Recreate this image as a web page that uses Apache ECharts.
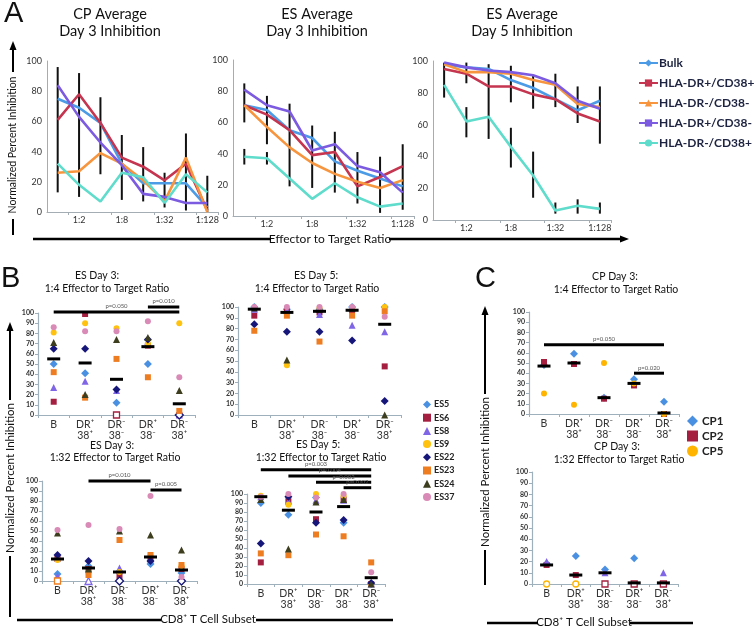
<!DOCTYPE html>
<html><head><meta charset="utf-8">
<script src="https://cdn.jsdelivr.net/npm/echarts@6/dist/echarts.min.js"></script>
<style>html,body{margin:0;padding:0;background:#fff}#c{width:754px;height:626px}</style>
</head><body><div id="c"></div>
<script>
// ---------- Panel A data ----------
const ratioCategories = ['1:1','1:2','1:4','1:8','1:16','1:32','1:64','1:128'];
const subsetNames = ['Bulk','HLA-DR+/CD38+','HLA-DR-/CD38-','HLA-DR+/CD38-','HLA-DR-/CD38+'];
const cpDay3Avg = [
  [75,69,59,32,19,19,19,3],
  [61,78,59,36,30,21,32,1],
  [26,27,39,32,21,7,36,0],
  [84,63,46,31,12,10,6,6],
  [32,18,7,26,23,6,25,13]
];
const cpDay3Err = [[0,13,96],[1,10,92],[2,25,76],[3,8,51],[4,7,43],[5,3,26],[6,1,52],[7,0,24]];
const esDay3Avg = [
  [71,68,55,50,35,29,24,19],
  [71,65,55,39,41,19,25,32],
  [71,57,44,34,27,22,18,23],
  [81,71,67,42,46,32,28,15],
  [38,37,24,11,21,12,6,8]
];
const esDay3Err = [[0,60,85],[0,33,43],[1,46,77],[1,33,41],[2,19,72],[3,18,58],[4,15,54],[5,8,41],[6,2,38],[7,4,46]];
const esDay5Avg = [
  [98,96,95,88,83,76,69,75],
  [95,92,84,84,79,76,67,62],
  [98,93,93,92,88,85,73,71],
  [99,96,94,93,91,86,75,70],
  [85,62,65,46,28,6,9,7]
];
const esDay5Err = [[0,77,99],[1,86,99],[1,52,71],[2,51,98],[3,74,97],[3,33,58],[4,70,91],[4,14,43],[5,71,92],[5,4,11],[6,61,84],[6,4,13],[7,48,84],[7,4,11]];

// ---------- Panels B / C data ----------
const subsetCategories = ['B','DR\u207A\n38\u207A','DR\u207B\n38\u207B','DR\u207A\n38\u207B','DR\u207B\n38\u207A'];
const esNames = ['ES5','ES6','ES8','ES9','ES22','ES23','ES24','ES37'];
const esDay3Ratio4 = [
  [50,41,12,50,0],[13,99,0,68,0],[27,33,24,72,0],[81,90,85,70,90],
  [65,65,25,74,0],[42,17,55,37,4],[71,20,74,76,24],[86,82,82,92,37]
];
const esDay3Ratio4Mean = [55,51,35,67,11];
const esDay3Ratio4Hollow = [[1,2],[4,4]];
const esDay5Ratio4 = [
  [100,98,98,100,100],[92,96,95,97,45],[98,97,93,83,77],[99,46,99,99,100],
  [84,77,77,69,13],[78,92,68,92,96],[99,51,98,99,0],[100,100,100,100,91]
];
const esDay5Ratio4Mean = [98,95,96,97,84];
const esDay3Ratio32 = [
  [7,15,9,17,8],[22,12,5,22,12],[5,0,13,22,4],[21,8,9,26,15],
  [26,20,0,20,0],[0,6,41,26,16],[48,12,50,46,31],[51,56,52,85,4]
];
const esDay3Ratio32Mean = [22,13,9,24,11];
const esDay3Ratio32Hollow = [[5,0],[2,1],[4,2],[4,4]];
const esDay5Ratio32 = [
  [90,77,96,68,0],[24,92,72,94,0],[97,92,93,93,0],[98,88,100,98,0],
  [45,97,68,71,1],[34,32,55,53,24],[94,39,91,94,0],[97,100,96,100,13]
];
const esDay5Ratio32Mean = [97,82,80,86,7];
const cpNames = ['CP1','CP2','CP5','CP4'];
const cpDay3Ratio4 = [[48,59,16,34,12],[51,49,15,28,0],[20,9,50,30,0],[null,null,null,null,null]];
const cpDay3Ratio4Mean = [47,50,16,30,1];
const cpDay3Ratio32 = [[18,25,13,23,null],[17,8,0,0,0],[0,0,null,null,null],[20,null,10,null,10]];
const cpDay3Ratio32Mean = [17,8,10,1,1];
const cpDay3Ratio32Hollow = [[2,0],[2,1],[1,2],[1,3],[1,4]];

const esDay3Ratio4Sig = [[0,4,101],[3,4,106]];
const esDay3Ratio4SigText = ['p=0.050','p=0.010'];
const esDay3Ratio32Sig = [[1,3,100],[3,4,91]];
const esDay3Ratio32SigText = ['p=0.010','p=0.005'];
const esDay5Ratio32Sig = [[0,4,127],[1,4,120],[2,4,113],[3,4,107]];
const esDay5Ratio32SigText = ['p=0.003','p=0.004','p=0.002','p=0.002'];
const cpDay3Ratio4Sig = [[0,4,68],[3,4,40]];
const cpDay3Ratio4SigText = ['p=0.050','p=0.020'];

// ---------- styles ----------
const FF = 'Lato, "Open Sans", sans-serif';
const subsetColors = ['#4b9be6','#c5354f','#f7953f','#7c5be0','#5fdccb'];
const subsetSymbols = ['diamond','rect','triangle','rect','circle'];
const esColors = ['#4a90e2','#a51f40','#7f66e6','#ffc20e','#15157a','#ee7d22','#3d3e1e','#d98ab6'];
const esSymbols = ['diamond','rect','triangle','circle','diamond','rect','triangle','circle'];
const cpColors = ['#4a90e2','#a51f40','#ffb400','#7f66e6'];
const cpSymbols = ['diamond','rect','circle','triangle'];

const grids = [
  {left:47, top:61, width:171, height:151},
  {left:233, top:60, width:181, height:156},
  {left:433, top:61, width:178, height:159},
  {left:38, top:313, width:157, height:102},
  {left:238, top:307, width:163, height:108},
  {left:42, top:481, width:155, height:100},
  {left:247, top:494, width:138, height:90},
  {left:529, top:312, width:150, height:102},
  {left:532, top:472, width:146, height:112}
].map(g => Object.assign({containLabel:false, outerBoundsMode:'none'}, g));

const xAxes = [], yAxes = [];
for (let g = 0; g < 3; g++) {
  xAxes.push({gridIndex:g, type:'category', data:ratioCategories, boundaryGap:true,
    axisLine:{lineStyle:{color:'#a3adb3', width:1}},
    axisTick:{show:true, length:3, lineStyle:{color:'#a3adb3'}},
    axisLabel:{interval:(i)=>i%2===1, fontSize:9, color:'#333', margin:4, fontFamily:FF}});
  yAxes.push({gridIndex:g, type:'value', min:0, max:100, interval:20,
    axisLine:{show:true, lineStyle:{color:'#a3adb3', width:1}}, axisTick:{show:false},
    splitLine:{show:false}, axisLabel:{fontSize:9, color:'#333', margin:5, fontFamily:FF}});
}
for (let g = 3; g < 9; g++) {
  xAxes.push({gridIndex:g, type:'category', data:subsetCategories, boundaryGap:true,
    axisLine:{lineStyle:{color:'#9fb0bd', width:1.2}},
    axisTick:{show:true, length:3, lineStyle:{color:'#9fb0bd'}},
    axisLabel:{interval:0, fontSize:10.5, lineHeight:11, color:'#333', margin:4, fontFamily:FF}});
  yAxes.push({gridIndex:g, type:'value', min:0, max:100, interval:10,
    axisLine:{show:true, lineStyle:{color:'#9fb0bd', width:1.2}},
    axisTick:{show:true, length:3, lineStyle:{color:'#9fb0bd'}},
    splitLine:{show:false}, axisLabel:{fontSize:7, fontWeight:'bold', color:'#333', margin:4, fontFamily:FF}});
}

const series = [];
// Panel A lines + error bars
[[cpDay3Avg, cpDay3Err],[esDay3Avg, esDay3Err],[esDay5Avg, esDay5Err]].forEach(([avg, err], g) => {
  series.push({type:'custom', xAxisIndex:g, yAxisIndex:g, data:err, z:2, silent:true,
    encode:{x:0, y:[1,2]},
    renderItem:(p, api) => {
      const a = api.coord([api.value(0), api.value(1)]);
      const b = api.coord([api.value(0), api.value(2)]);
      return {type:'line', shape:{x1:a[0], y1:a[1], x2:b[0], y2:b[1]}, style:{stroke:'#111', lineWidth:2}};
    }});
  avg.forEach((vals, s) => {
    series.push({type:'line', name:subsetNames[s], xAxisIndex:g, yAxisIndex:g, data:vals,
      symbol:subsetSymbols[s], symbolSize:8, showSymbol:false, z:3,
      lineStyle:{width:2.6, color:subsetColors[s]}, itemStyle:{color:subsetColors[s]}});
  });
});

function meanSeries(g, means) {
  return {type:'custom', xAxisIndex:g, yAxisIndex:g, z:5, silent:true,
    data:means.map((m,i)=>[i,m]), encode:{x:0,y:1},
    renderItem:(p, api) => {
      const c = api.coord([api.value(0), api.value(1)]);
      return {type:'rect', shape:{x:c[0]-6.5, y:c[1]-1.5, width:13, height:3}, style:{fill:'#000'}};
    }};
}
function sigSeries(g, sig, texts) {
  return {type:'custom', xAxisIndex:g, yAxisIndex:g, z:6, silent:true, clip:false,
    data:sig, encode:{x:[0,1], y:2},
    renderItem:(p, api) => {
      const a = api.coord([api.value(0), api.value(2)]);
      const b = api.coord([api.value(1), api.value(2)]);
      return {type:'group', children:[
        {type:'line', shape:{x1:a[0], y1:a[1], x2:b[0], y2:b[1]}, style:{stroke:'#000', lineWidth:3}},
        {type:'text', x:(a[0]+b[0])/2, y:a[1]-2.5, style:{text:texts[p.dataIndex], fill:'#555', font:'6px '+FF, textAlign:'center', textVerticalAlign:'bottom'}}
      ]};
    }};
}
function scatterSet(g, names, colors, symbols, table, hollow) {
  hollow = hollow || [];
  table.forEach((vals, j) => {
    const data = [];
    vals.forEach((v, i) => {
      if (v === null) return;
      const isHollow = hollow.some(h => h[0]===j && h[1]===i);
      data.push(isHollow ? {value:[i,v], itemStyle:{color:'#fff', borderColor:colors[j], borderWidth:1.3}} : [i,v]);
    });
    const sz = symbols[j]==='diamond' ? 8 : symbols[j]==='triangle' ? 7 : 6;
    series.push({type:'scatter', name:names[j], xAxisIndex:g, yAxisIndex:g, data,
      symbol:symbols[j], symbolSize:sz, z:4, itemStyle:{color:colors[j], opacity:1}});
  });
}
scatterSet(3, esNames, esColors, esSymbols, esDay3Ratio4, esDay3Ratio4Hollow);
series.push(meanSeries(3, esDay3Ratio4Mean), sigSeries(3, esDay3Ratio4Sig, esDay3Ratio4SigText));
scatterSet(4, esNames, esColors, esSymbols, esDay5Ratio4, []);
series.push(meanSeries(4, esDay5Ratio4Mean));
scatterSet(5, esNames, esColors, esSymbols, esDay3Ratio32, esDay3Ratio32Hollow);
series.push(meanSeries(5, esDay3Ratio32Mean), sigSeries(5, esDay3Ratio32Sig, esDay3Ratio32SigText));
scatterSet(6, esNames, esColors, esSymbols, esDay5Ratio32, []);
series.push(meanSeries(6, esDay5Ratio32Mean), sigSeries(6, esDay5Ratio32Sig, esDay5Ratio32SigText));
scatterSet(7, cpNames, cpColors, cpSymbols, cpDay3Ratio4, []);
series.push(meanSeries(7, cpDay3Ratio4Mean), sigSeries(7, cpDay3Ratio4Sig, cpDay3Ratio4SigText));
scatterSet(8, cpNames, cpColors, cpSymbols, cpDay3Ratio32, cpDay3Ratio32Hollow);
series.push(meanSeries(8, cpDay3Ratio32Mean));

// ---------- text & decorations ----------
function txt(t, x, y, size, opts) {
  opts = opts || {};
  return {type:'text', x, y, rotation:opts.rot||0, silent:true, z:10,
    style:{text:t, fill:opts.color||'#111', font:(opts.weight||'normal')+' '+size+'px '+(opts.family||FF),
      textAlign:opts.align||'center', textVerticalAlign:'middle'}};
}
function ln(x1,y1,x2,y2,w) {
  return {type:'line', silent:true, z:10, shape:{x1,y1,x2,y2}, style:{stroke:'#000', lineWidth:w||2.5}};
}
function arrowUp(x, y) { return {type:'polygon', silent:true, z:10, shape:{points:[[x,y],[x-3.5,y+9],[x+3.5,y+9]]}, style:{fill:'#000'}}; }
function arrowRight(x, y) { return {type:'polygon', silent:true, z:10, shape:{points:[[x,y],[x-9,y-3.5],[x-9,y+3.5]]}, style:{fill:'#000'}}; }

const graphics = [
  txt('A', 4, 14, 29, {align:'left', family:'"Liberation Sans", Arial, sans-serif'}),
  txt('B', 1, 279, 29, {align:'left', family:'"Liberation Sans", Arial, sans-serif'}),
  txt('C', 475, 279, 29, {align:'left', family:'"Liberation Sans", Arial, sans-serif'}),
  txt('CP Average', 110, 14, 14.5), txt('Day 3 Inhibition', 110, 31, 14.5),
  txt('ES Average', 317, 14, 14.5), txt('Day 3 Inhibition', 317, 31, 14.5),
  txt('ES Average', 522, 14, 14.5), txt('Day 5 Inhibition', 522, 31, 14.5),
  // A axis titles
  txt('Normalized Percent Inhibition', 13, 145, 10.5, {rot:Math.PI/2}),
  arrowUp(13, 41), ln(13, 48, 13, 72, 2), ln(13, 219, 13, 235, 2),
  txt('Effector to Target Ratio', 330, 239, 12),
  ln(33, 239, 271, 239), ln(389, 239, 622, 239), arrowRight(629, 239),
  // B titles
  txt('ES Day 3:', 97, 276, 10.5), txt('1:4 Effector to Target Ratio', 107, 289, 10.5),
  txt('ES Day 5:', 316, 276, 10.5), txt('1:4 Effector to Target Ratio', 317, 289, 10.5),
  txt('ES Day 3:', 112, 446, 10.5), txt('1:32 Effector to Target Ratio', 115, 458, 10.5),
  txt('ES Day 5:', 318, 445, 10.5), txt('1:32 Effector to Target Ratio', 321, 458, 10.5),
  // C titles
  txt('CP Day 3:', 615, 277, 10.5), txt('1:4 Effector to Target Ratio', 616, 290, 10.5),
  txt('CP Day 3:', 617, 447, 10.5), txt('1:32 Effector to Target Ratio', 619, 460, 10.5),
  // B axis titles
  txt('Normalized Percent Inhibition', 10, 478, 11.5, {rot:Math.PI/2}),
  arrowUp(10, 322), ln(10, 328, 10, 400, 2), ln(10, 556, 10, 617, 2),
  txt('CD8\u207A T Cell Subset', 208, 619, 11.5),
  ln(17, 620, 161, 620), ln(256, 620, 393, 620),
  // C axis titles
  txt('Normalized Percent Inhibition', 485, 472, 11.5, {rot:Math.PI/2}),
  arrowUp(485, 306), ln(485, 312, 485, 394, 2), ln(485, 550, 485, 585, 2),
  txt('CD8\u207A T Cell Subset', 584, 622, 11.5),
  ln(487, 623, 538, 623), ln(630, 623, 693, 623)
];

const option = {
  animation:false,
  backgroundColor:'#fff',
  textStyle:{fontFamily:FF},
  grid:grids, xAxis:xAxes, yAxis:yAxes, series,
  legend:[
    {data:subsetNames, orient:'vertical', left:633, top:51, itemWidth:19, itemHeight:9, itemGap:6,
     selectedMode:false, textStyle:{fontSize:12, fontWeight:'bold', color:'#1d2340', fontFamily:FF, lineHeight:14, padding:[0,0,0,-4]}},
    {data:esNames, orient:'vertical', left:418, top:394, itemWidth:8, itemHeight:8, itemGap:2.2,
     selectedMode:false, textStyle:{fontSize:9, fontWeight:'bold', color:'#222', fontFamily:FF, lineHeight:11, padding:[0,0,0,-2]}},
    {data:['CP1','CP2','CP5'], orient:'vertical', left:682, top:410, itemWidth:11, itemHeight:11, itemGap:3,
     selectedMode:false, textStyle:{fontSize:11.5, fontWeight:'bold', color:'#222', fontFamily:FF, lineHeight:11, padding:[0,0,0,-1]}}
  ],
  graphic:graphics
};
const chart = echarts.init(document.getElementById('c'), null, {renderer:'canvas'});
chart.setOption(option);
</script></body></html>
